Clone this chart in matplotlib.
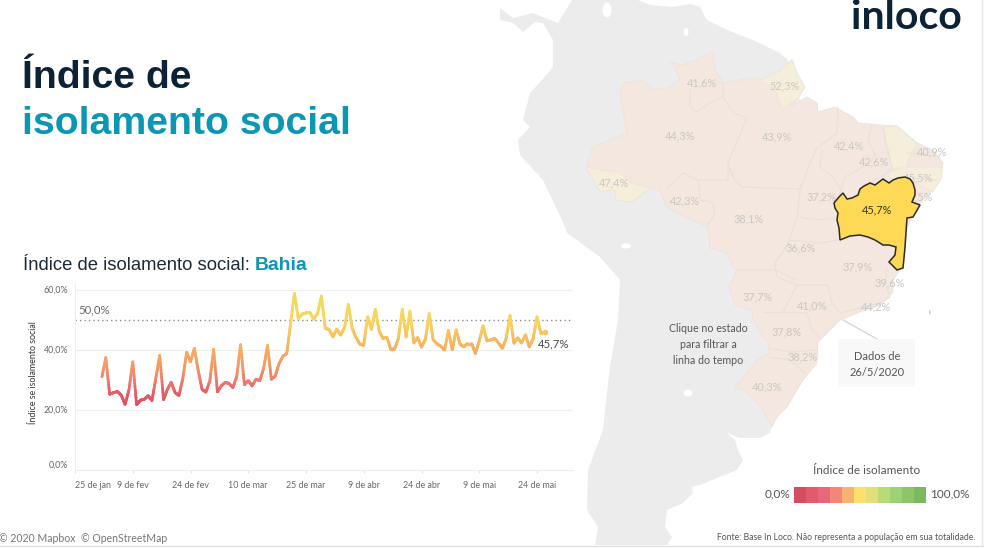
import numpy as np
import pandas as pd
import matplotlib
matplotlib.use("Agg")
import matplotlib.pyplot as plt
import matplotlib.dates as mdates
from matplotlib.patches import Polygon, Rectangle, Ellipse
from matplotlib.collections import LineCollection
from matplotlib.colors import LinearSegmentedColormap

W, H = 984, 548
NAVY, TEAL = "#0c2236", "#0a97b5"

# ---------- data ----------
start_date = "2020-02-01"
isolamento = [
    30.9, 37.3, 25.1, 25.6, 26.0, 24.8, 21.7, 26.4, 35.9, 21.6, 23.1, 23.4, 24.6, 23.0, 30.5, 38.0,
    23.3, 26.7, 29.1, 25.6, 24.7, 30.3, 39.1, 35.9, 40.4, 33.0, 26.7, 25.8, 29.4, 40.1, 25.9, 27.9,
    29.0, 28.7, 27.3, 30.9, 41.6, 28.3, 29.6, 27.9, 30.1, 29.6, 33.7, 41.4, 30.1, 31.1, 35.3, 37.8,
    38.6, 48.7, 58.7, 50.3, 51.8, 52.2, 52.4, 50.1, 52.0, 57.8, 47.0, 46.7, 44.2, 46.8, 44.8, 47.3,
    55.0, 47.0, 44.0, 41.8, 41.4, 50.9, 46.7, 53.4, 46.1, 43.7, 44.1, 40.1, 40.2, 43.7, 53.4, 44.2,
    52.8, 42.2, 44.0, 40.8, 43.3, 52.0, 43.4, 41.9, 41.1, 39.8, 46.4, 39.9, 46.6, 41.8, 40.9, 42.0,
    42.0, 38.7, 42.9, 47.9, 42.9, 43.2, 43.7, 42.2, 40.4, 43.7, 51.4, 42.1, 43.9, 42.2, 44.9, 40.9,
    43.6, 50.9, 45.4, 45.7,
]
tick_dates = ["2020-01-25", "2020-02-09", "2020-02-24", "2020-03-10", "2020-03-25",
              "2020-04-09", "2020-04-24", "2020-05-09", "2020-05-24"]
tick_labels = ["25 de jan", "9 de fev", "24 de fev", "10 de mar", "25 de mar",
               "9 de abr", "24 de abr", "9 de mai", "24 de mai"]
y_ticks = [0, 20, 40, 60]
y_labels = ["0,0%", "20,0%", "40,0%", "60,0%"]
legend_colors = ["#d64d63", "#e25a6e", "#ea667c", "#f28679", "#f8b272", "#fddf6b",
                 "#dfe07c", "#b8db78", "#9dd173", "#8cc56a", "#7cb85f"]
state_labels = ["41,6%", "52,3%", "44,3%", "43,9%", "42,4%", "42,6%", "40,9%", "45,5%", "47,4%", "42,3%",
                "38,1%", "37,2%", "36,6%", "37,9%", "39,6%", "44,2%", "41,0%", "37,7%", "37,8%", "38,2%",
                "40,3%", "44,5%"]
state_label_xy = [(702, 83), (785, 86), (680, 136), (777, 137), (849, 146), (874, 162), (932, 152), (918, 178),
                  (614, 183), (685, 201), (749, 219), (822, 197), (801, 248), (858, 267), (890, 283), (876, 307),
                  (812, 306), (758, 297), (787, 332), (803, 357), (767, 387), (918, 197)]

# ---------- map shapes (image pixels) ----------
land = [(572, 0), (638, 0), (650, 5), (672, 7), (690, 4), (700, 7), (707, 20), (727, 30), (740, 35), (753, 40),
        (780, 53), (788, 60), (800, 100), (830, 200), (800, 300), (772, 427), (770, 433), (760, 438), (740, 438),
        (727, 433), (735, 440), (738, 450), (743, 460), (737, 470), (717, 478), (700, 485), (692, 487), (693, 493),
        (683, 503), (667, 510), (665, 527), (672, 537), (667, 545), (595, 545), (598, 527), (587, 510), (588, 470),
        (603, 430), (607, 393), (610, 367), (618, 320), (620, 280), (600, 257), (567, 233), (562, 220), (543, 180),
        (520, 155), (518, 140), (530, 127), (523, 120), (530, 93), (542, 80), (553, 67), (553, 40), (543, 23),
        (535, 22), (528, 28), (523, 32), (513, 23), (500, 20), (500, 8), (513, 18), (533, 13), (545, 18), (558, 23)]
lakes = [(607, 10, 9, 15), (686, 32, 5, 8), (626, 246, 10, 5), (688, 393, 9, 7)]
brazil = [(670, 62), (682, 65), (697, 60), (710, 52), (713, 53), (715, 70), (723, 83), (750, 78), (767, 80), (778, 72),
          (792, 60), (798, 75), (805, 87), (798, 98), (790, 107), (807, 97), (817, 103), (818, 112), (835, 107),
          (853, 117), (858, 123), (880, 125), (897, 126), (917, 143), (933, 150), (943, 163), (941, 177), (930, 193),
          (920, 203), (907, 227), (905, 253), (900, 270), (893, 280), (893, 292), (880, 305), (860, 312), (840, 320),
          (827, 333), (818, 342), (817, 363), (803, 380), (787, 407), (777, 417), (772, 427), (763, 410), (753, 398),
          (743, 390), (735, 387), (747, 373), (757, 360), (770, 353), (768, 342), (763, 337), (753, 320), (752, 310),
          (735, 305), (729, 287), (737, 270), (733, 267), (727, 253), (710, 248), (708, 227), (697, 222), (677, 213),
          (667, 207), (663, 197), (660, 190), (650, 188), (632, 202), (616, 200), (615, 190), (600, 191), (586, 167),
          (593, 147), (617, 137), (627, 133), (620, 95), (623, 83), (643, 80), (653, 90), (667, 88), (680, 80), (673, 63)]
borders = [
    [(690, 90), (690, 107), (697, 112), (710, 103), (722, 97)],
    [(723, 83), (723, 97), (733, 113), (747, 118), (728, 163), (733, 177), (742, 187), (800, 189)],
    [(728, 163), (728, 180), (698, 180), (683, 173), (667, 188)],
    [(698, 180), (700, 200), (712, 202), (715, 213), (708, 225)],
    [(800, 189), (810, 163), (817, 148), (837, 133), (838, 108)],
    [(822, 150), (820, 167), (833, 177), (842, 192), (835, 200)],
    [(800, 189), (797, 217), (787, 247), (775, 262)],
    [(800, 217), (815, 220), (835, 218)],
    [(872, 125), (868, 140), (875, 155), (870, 163), (845, 177), (840, 193)],
    [(883, 127), (886, 143), (892, 167), (888, 172), (870, 183)],
    [(907, 153), (940, 157)],
    [(900, 177), (937, 180)],
    [(838, 240), (820, 243), (790, 240), (775, 263), (777, 277), (797, 285)],
    [(797, 285), (828, 285), (832, 303), (840, 313), (860, 308), (880, 303)],
    [(887, 267), (885, 283), (890, 297), (870, 310)],
    [(738, 270), (775, 270), (797, 280)],
    [(797, 285), (783, 312), (807, 313), (812, 330), (820, 338)],
    [(763, 312), (783, 312)],
    [(768, 348), (790, 352), (817, 350)],
    [(770, 357), (790, 360), (805, 373)],
]
pale_states = [
    [(760, 80), (778, 72), (792, 60), (798, 75), (805, 87), (798, 98), (783, 109), (775, 90)],
    [(586, 167), (600, 170), (620, 173), (632, 183), (650, 188), (632, 202), (616, 200), (615, 190), (600, 191), (593, 180)],
    [(883, 127), (897, 126), (917, 143), (908, 160), (907, 168), (892, 168), (886, 143)],
    [(888, 172), (908, 167), (942, 167), (942, 177), (933, 192), (917, 183), (903, 177), (893, 182)],
]
bahia = [(834, 203), (839, 197), (843, 193), (847, 199), (852, 198), (858, 195), (860, 189), (864, 186), (870, 183),
         (875, 185), (879, 182), (883, 179), (889, 183), (893, 180), (898, 178), (905, 177), (910, 179), (913, 183),
         (915, 190), (915, 195), (912, 202), (920, 205), (916, 212), (913, 217), (907, 218), (906, 232), (905, 247),
         (904, 258), (903, 268), (897, 270), (889, 262), (895, 255), (896, 247), (889, 245), (883, 245), (875, 240),
         (868, 237), (860, 235), (850, 236), (840, 240), (839, 228), (837, 220), (838, 213), (835, 208)]

# ---------- figure ----------
fig = plt.figure(figsize=(W / 100, H / 100), dpi=100, facecolor="white")
bg = fig.add_axes([0, 0, 1, 1])
bg.set_xlim(0, W)
bg.set_ylim(H, 0)
bg.axis("off")

LAT = "Lato"
ARIAL = "Liberation Sans"

bg.add_patch(Polygon(land, closed=True, fc="#ececec", ec="none", zorder=1))
for cx, cy, w, h in lakes:
    bg.add_patch(Ellipse((cx, cy), w, h, fc="white", ec="none", zorder=2))
bg.add_patch(Polygon(brazil, closed=True, fc="#f3e7df", ec="#eee2da", lw=0.6, zorder=3))
for p in pale_states:
    bg.add_patch(Polygon(p, closed=True, fc="#f5eedb", ec="#eee5d6", lw=0.5, zorder=4))
for b in borders:
    xs, ys = zip(*b)
    bg.plot(xs, ys, color="#ebe0d7", lw=0.8, zorder=5)
for lab, (lx, ly) in zip(state_labels, state_label_xy):
    bg.text(lx, ly, lab, fontsize=7.8, family=LAT, color="#c9c6c3", ha="center", va="center", zorder=6)
bg.add_patch(Polygon(bahia, closed=True, fc="#fed955", ec="#2b2b25", lw=1.1, zorder=7))
bg.text(877, 210, "45,7%", fontsize=7.8, family=LAT, color="#3a3520", ha="center", va="center", zorder=8)

# title and logo
bg.text(22, 88, "Índice de", fontsize=28.3, family=ARIAL, weight="bold", color=NAVY, va="baseline")
bg.text(22, 134, "isolamento social", fontsize=28.3, family=ARIAL, weight="bold", color=TEAL, va="baseline")
bg.text(851, 29, "inloco", fontsize=29.5, family=LAT, weight="bold", color=NAVY, va="baseline", zorder=9)

# chart heading
bg.text(23, 265, "Índice de isolamento social:", fontsize=13.3, family=ARIAL, color="#1d2b38", va="center")
bg.text(255, 265, "Bahia", fontsize=13.9, family=ARIAL, weight="bold", color=TEAL, va="center")

# annotation texts
for ty, t in zip([329, 344.7, 360], ["Clique no estado", "para filtrar a", "linha do tempo"]):
    bg.text(708, ty, t, fontsize=7.7, family=LAT, color="#555555", ha="center", va="center", zorder=9)
bg.plot([843, 877], [320, 339], color="#d2cfcb", lw=0.8, zorder=6)
bg.add_patch(Rectangle((838, 339), 77, 48, fc="#f8f8f8", ec="none", zorder=7))
bg.text(877, 356, "Dados de", fontsize=8, family=LAT, color="#555555", ha="center", va="center", zorder=8)
bg.text(877, 372, "26/5/2020", fontsize=8, family=LAT, color="#555555", ha="center", va="center", zorder=8)
bg.text(929, 312, "i", fontsize=4.5, color="#777777", ha="center", va="center")

# colour legend
bx, bw = 794.3, (926 - 794.3) / len(legend_colors)
for i, c in enumerate(legend_colors):
    bg.add_patch(Rectangle((bx + i * bw, 486.7), bw, 16.6, fc=c, ec="none", zorder=3))
bg.text(867, 471, "Índice de isolamento", fontsize=8.5, family=LAT, color="#555555", ha="center", va="center")
bg.text(790.7, 494, "0,0%", fontsize=8.5, family=LAT, color="#555555", ha="right", va="center")
bg.text(930, 494, "100,0%", fontsize=8.5, family=LAT, color="#555555", ha="left", va="center")

# footers
bg.text(975, 537, "Fonte: Base In Loco. Não representa a população em sua totalidade.", fontsize=6.25, family=LAT,
        color="#555555", ha="right", va="center", zorder=9)
bg.text(-1, 538, "© 2020 Mapbox  © OpenStreetMap", fontsize=7.6, family=LAT, color="#777777", ha="left", va="center", zorder=9)
bg.plot([0, W], [545.5, 545.5], color="#e0e0e0", lw=1, zorder=8)
bg.plot([981.5, 981.5], [0, 545], color="#e4e4e4", lw=1, zorder=8)

# ---------- line chart ----------
AX_L, AX_R, AX_T, AX_B = 75, 573, 283, 469.5
ax = fig.add_axes([AX_L / W, 1 - AX_B / H, (AX_R - AX_L) / W, (AX_B - AX_T) / H])
ax.patch.set_alpha(0)
dates = pd.date_range(start_date, periods=len(isolamento), freq="D")
x = mdates.date2num(dates)
y = np.array(isolamento)
tx = mdates.date2num(pd.to_datetime(tick_dates))
ax.set_xlim(tx[0], tx[0] + (AX_R - AX_L) / 3.85)
ax.set_ylim(0, (AX_B - AX_T) / 3.0)

cmap = LinearSegmentedColormap.from_list("iso", [
    (0.0, "#e04a66"), (0.125, "#e65a68"), (0.25, "#ef7f6c"), (0.375, "#f49b66"), (0.5, "#f7ae60"),
    (0.625, "#f9c35c"), (0.75, "#f9d65c"), (1.0, "#ebdc5e")])
sx, sy = [], []
for i in range(len(x) - 1):
    sx.extend(np.linspace(x[i], x[i + 1], 12, endpoint=False))
    sy.extend(np.linspace(y[i], y[i + 1], 12, endpoint=False))
sx.append(x[-1])
sy.append(y[-1])
sx, sy = np.array(sx), np.array(sy)
segs = np.stack([np.column_stack([sx[:-1], sy[:-1]]), np.column_stack([sx[1:], sy[1:]])], axis=1)
lc = LineCollection(segs, cmap=cmap, array=(sy[:-1] + sy[1:]) / 2, clim=(20, 60), lw=2.0, capstyle="round", zorder=3)
ax.add_collection(lc)
ax.scatter(x[-1], y[-1], s=16, color=cmap((y[-1] - 20) / 40), zorder=4, lw=0)

ax.axhline(50, color="#8a8a8a", lw=1.0, ls=(0, (1, 2.2)), zorder=2)
ax.text(tx[0] + 3 / 3.85, 50 + 1.2, "50,0%", fontsize=8.2, family=LAT, color="#666666", va="bottom", ha="left")
ax.text(x[-1] - 1.7, 41.9, "45,7%", fontsize=8.2, family=LAT, color="#444444", va="center", ha="left")

ax.set_yticks(y_ticks)
ax.set_yticklabels(y_labels, fontsize=6.4, family=LAT, color="#666666")
ax.get_yticklabels()[0].set_va("bottom")
ax.set_xticks(tx)
ax.set_xticklabels(tick_labels, fontsize=6.4, family=LAT, color="#666666")
ax.get_xticklabels()[0].set_ha("left")
ax.tick_params(axis="y", length=0, pad=5)
ax.tick_params(axis="x", length=2, color="#e2e2e2", pad=6.5)
ax.grid(axis="y", color="#efefef", lw=0.8)
ax.set_axisbelow(True)
for s in ["top", "right"]:
    ax.spines[s].set_visible(False)
for s in ["left", "bottom"]:
    ax.spines[s].set_color("#efefef")
    ax.spines[s].set_linewidth(0.8)
fig.text(34 / W, 1 - 373 / H, "Índice se isolamento social", fontsize=6.4, family=LAT, color="#333333",
         rotation=90, ha="center", va="center")

fig.savefig("out.png", dpi=100)
